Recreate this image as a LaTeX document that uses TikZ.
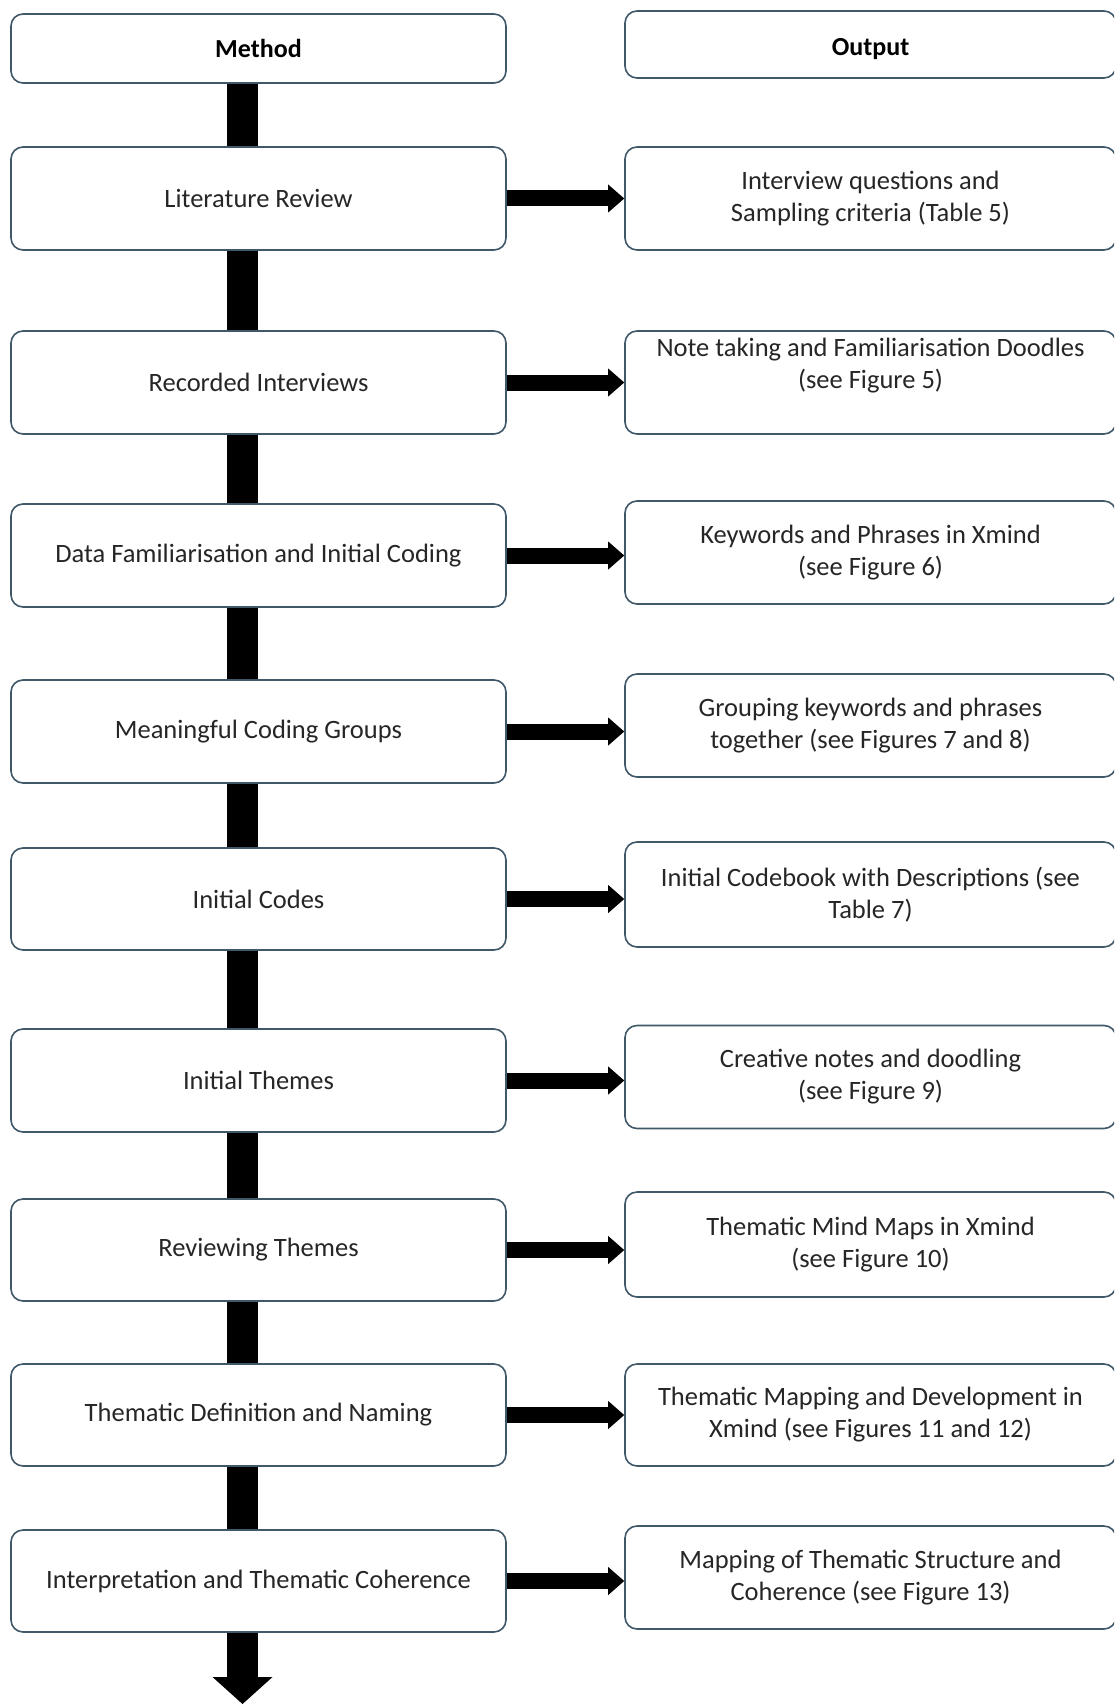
\documentclass[tikz,border=0pt]{standalone}
\usepackage{fontspec}
\setmainfont{Carlito}
\usetikzlibrary{arrows.meta}
\definecolor{boxline}{RGB}{64,88,104}

\begin{document}
\begin{tikzpicture}[x=1pt,y=-1pt,
  stage/.style={draw=boxline,line width=1.6pt,rounded corners=12pt,fill=white,
    minimum width=495pt,minimum height=103pt,inner sep=2pt,align=center,
    font=\fontsize{26.5}{32}\selectfont,text=black!85},
  result/.style={stage,minimum width=491pt},
  head/.style={font=\fontsize{26}{32}\selectfont\bfseries,text=black},
  link/.style={line width=31pt,black},
  flow/.style={line width=16pt,black,-{Triangle[width=28pt,length=16pt,line width=0pt]}}]

\clip (0,0) rectangle (1114,1704);
\fill[white] (0,0) rectangle (1114,1704);

% Method column
\node[stage,minimum height=69pt,head] (meth) at (258.5,48.5) {Method};
\node[stage] (lit) at (258.5,198.5) {Literature Review};
\node[stage] (rec) at (258.5,382.5) {Recorded Interviews};
\node[stage] (fam) at (258.5,555.5) {Data Familiarisation and Initial Coding};
\node[stage] (grp) at (258.5,731.5) {Meaningful Coding Groups};
\node[stage,minimum height=102pt] (cod) at (258.5,899) {Initial Codes};
\node[stage] (thm) at (258.5,1080.5) {Initial Themes};
\node[stage,minimum height=102pt] (rev) at (258.5,1250) {Reviewing Themes};
\node[stage,minimum height=102pt] (def) at (258.5,1415) {Thematic Definition and Naming};
\node[stage,minimum height=102pt] (int) at (258.5,1581) {Interpretation and Thematic Coherence};

% Output column
\node[result,minimum height=67pt,head,text height=27pt] (out) at (870.5,44.5) {Output};
\node[result] (litout) at (870.5,198.5) {Interview questions and\\Sampling criteria (Table 5)};
\node[result,text depth=39pt] (recout) at (870.5,382.5) {Note taking and Familiarisation Doodles\\(see Figure 5)};
\node[result] (famout) at (870.5,552.5) {Keywords and Phrases in Xmind\\(see Figure 6)};
\node[result] (grpout) at (870.5,725.5) {Grouping keywords and phrases\\together (see Figures 7 and 8)};
\node[result,minimum height=105pt] (codout) at (870.5,894.5) {Initial Codebook with Descriptions (see\\Table 7)};
\node[result] (thmout) at (870.5,1077) {Creative notes and doodling\\(see Figure 9)};
\node[result,minimum height=105pt] (revout) at (870.5,1244.5) {Thematic Mind Maps in Xmind\\(see Figure 10)};
\node[result,minimum height=102pt] (defout) at (870.5,1415) {Thematic Mapping and Development in\\Xmind (see Figures 11 and 12)};
\node[result] (intout) at (870.5,1577.5) {Mapping of Thematic Structure and\\Coherence (see Figure 13)};

% Thick bars down the method column
\draw[link] ([xshift=-16pt]meth.south) -- ([xshift=-16pt]lit.north);
\draw[link] ([xshift=-16pt]lit.south) -- ([xshift=-16pt]rec.north);
\draw[link] ([xshift=-16pt]rec.south) -- ([xshift=-16pt]fam.north);
\draw[link] ([xshift=-16pt]fam.south) -- ([xshift=-16pt]grp.north);
\draw[link] ([xshift=-16pt]grp.south) -- ([xshift=-16pt]cod.north);
\draw[link] ([xshift=-16pt]cod.south) -- ([xshift=-16pt]thm.north);
\draw[link] ([xshift=-16pt]thm.south) -- ([xshift=-16pt]rev.north);
\draw[link] ([xshift=-16pt]rev.south) -- ([xshift=-16pt]def.north);
\draw[link] ([xshift=-16pt]def.south) -- ([xshift=-16pt]int.north);
\coordinate (end) at (242.5,1704);
\draw[link,-{Triangle[width=60pt,length=27pt,line width=0pt]}] ([xshift=-16pt]int.south) -- (end);

% Arrows to the outputs
\draw[flow] (lit.east) -- (lit.east -| litout.west);
\draw[flow] (rec.east) -- (rec.east -| recout.west);
\draw[flow] (fam.east) -- (fam.east -| famout.west);
\draw[flow] (grp.east) -- (grp.east -| grpout.west);
\draw[flow] (cod.east) -- (cod.east -| codout.west);
\draw[flow] (thm.east) -- (thm.east -| thmout.west);
\draw[flow] (rev.east) -- (rev.east -| revout.west);
\draw[flow] (def.east) -- (def.east -| defout.west);
\draw[flow] (int.east) -- (int.east -| intout.west);

\end{tikzpicture}
\end{document}
